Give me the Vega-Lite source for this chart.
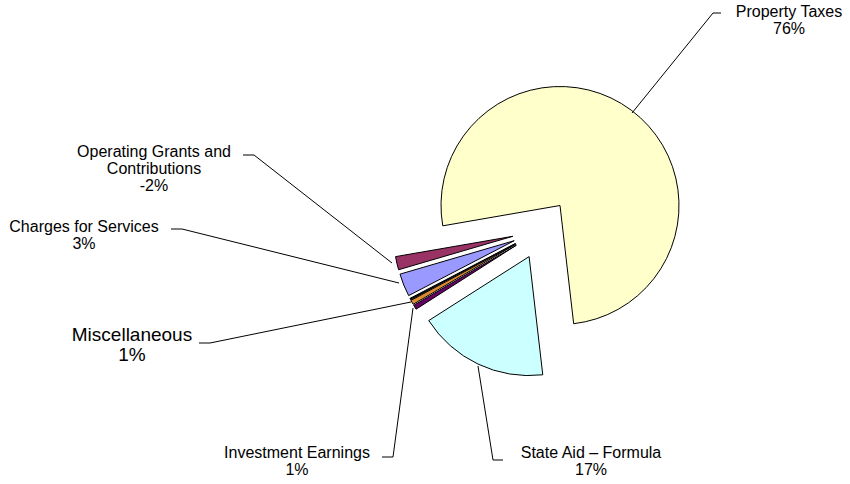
{
  "$schema": "https://vega.github.io/schema/vega-lite/v6.json",
  "width": 850,
  "height": 484,
  "autosize": {"type": "fit", "contains": "padding"},
  "padding": 0,
  "background": "white",
  "config": {"view": {"stroke": null}},
  "datasets": {
    "revenue": [
      {"source": "State Aid – Formula", "share": 17.8, "order": 1},
      {"source": "Investment Earnings", "share": 0.6, "order": 2},
      {"source": "Miscellaneous", "share": 0.6, "order": 3},
      {"source": "Other", "share": 0.2, "order": 4},
      {"source": "Charges for Services", "share": 3.1, "order": 5},
      {"source": "Operating Grants and Contributions", "share": 1.8, "order": 6},
      {"source": "Property Taxes", "share": 75.9, "order": 7}
    ],
    "labels": [
      {"source": "Property Taxes", "label": "Property Taxes\n76%", "x": 247, "y": 212.8},
      {"source": "Operating Grants and Contributions", "label": "Operating Grants and\nContributions\n-2%", "x": -388, "y": 72.8},
      {"source": "Charges for Services", "label": "Charges for Services\n3%", "x": -458, "y": -2.2},
      {"source": "Miscellaneous", "label": "Miscellaneous\n1%", "x": -410, "y": -111},
      {"source": "Investment Earnings", "label": "Investment Earnings\n1%", "x": -245, "y": -228.8},
      {"source": "State Aid – Formula", "label": "State Aid – Formula\n17%", "x": 49, "y": -228.8}
    ],
    "leaders": [
      {"source": "Property Taxes", "seq": 1, "x": 90, "y": 116.5},
      {"source": "Property Taxes", "seq": 2, "x": 171, "y": 216.5},
      {"source": "Property Taxes", "seq": 3, "x": 179, "y": 216.5},
      {"source": "Operating Grants and Contributions", "seq": 1, "x": -150, "y": -33.5},
      {"source": "Operating Grants and Contributions", "seq": 2, "x": -288, "y": 74.5},
      {"source": "Operating Grants and Contributions", "seq": 3, "x": -299, "y": 74.5},
      {"source": "Charges for Services", "seq": 1, "x": -143, "y": -53.5},
      {"source": "Charges for Services", "seq": 2, "x": -360, "y": 0.5},
      {"source": "Charges for Services", "seq": 3, "x": -371, "y": 0.5},
      {"source": "Miscellaneous", "seq": 1, "x": -131, "y": -72.5},
      {"source": "Miscellaneous", "seq": 2, "x": -332, "y": -113.5},
      {"source": "Miscellaneous", "seq": 3, "x": -343, "y": -113.5},
      {"source": "Investment Earnings", "seq": 1, "x": -129, "y": -78.5},
      {"source": "Investment Earnings", "seq": 2, "x": -149, "y": -227.5},
      {"source": "Investment Earnings", "seq": 3, "x": -160, "y": -227.5},
      {"source": "State Aid – Formula", "seq": 1, "x": -64, "y": -136.5},
      {"source": "State Aid – Formula", "seq": 2, "x": -49, "y": -230.5},
      {"source": "State Aid – Formula", "seq": 3, "x": -39, "y": -230.5}
    ]
  },
  "layer": [
    {
      "data": {"name": "revenue"},
      "transform": [
        {"stack": "share", "groupby": [], "sort": [{"field": "order", "order": "ascending"}], "as": ["s0", "s1"]}
      ],
      "encoding": {
        "x": {"datum": 0, "type": "quantitative", "scale": {"domain": [-542, 308], "nice": false, "zero": false}, "axis": null},
        "y": {"datum": 0, "type": "quantitative", "scale": {"domain": [-254.5, 229.5], "nice": false, "zero": false}, "axis": null},
        "theta": {"field": "s0", "type": "quantitative", "scale": {"domain": [0, 100], "range": [3.0264, 9.3096]}},
        "theta2": {"field": "s1"},
        "color": {
          "field": "source",
          "type": "nominal",
          "legend": null,
          "scale": {
            "domain": ["State Aid – Formula", "Investment Earnings", "Miscellaneous", "Other", "Charges for Services", "Operating Grants and Contributions", "Property Taxes"],
            "range": ["#CCFFFF", "#660066", "#E08A30", "#000000", "#9999FF", "#993366", "#FFFFCC"]
          }
        }
      },
      "layer": [
        {"transform": [{"filter": "datum.order === 1"}], "mark": {"type": "arc", "outerRadius": 119, "stroke": "black", "strokeWidth": 1, "xOffset": -12.9, "yOffset": 27.1}},
        {"transform": [{"filter": "datum.order === 2"}], "mark": {"type": "arc", "outerRadius": 119, "stroke": "black", "strokeWidth": 1, "xOffset": -25.6, "yOffset": 15.7}},
        {"transform": [{"filter": "datum.order === 3"}], "mark": {"type": "arc", "outerRadius": 119, "stroke": "black", "strokeWidth": 1, "xOffset": -26.2, "yOffset": 14.7}},
        {"transform": [{"filter": "datum.order === 4"}], "mark": {"type": "arc", "outerRadius": 119, "stroke": "black", "strokeWidth": 1, "xOffset": -26.5, "yOffset": 14.0}},
        {"transform": [{"filter": "datum.order === 5"}], "mark": {"type": "arc", "outerRadius": 119, "stroke": "black", "strokeWidth": 1, "xOffset": -27.8, "yOffset": 11.2}},
        {"transform": [{"filter": "datum.order === 6"}], "mark": {"type": "arc", "outerRadius": 119, "stroke": "black", "strokeWidth": 1, "xOffset": -29.2, "yOffset": 6.8}},
        {"transform": [{"filter": "datum.order === 7"}], "mark": {"type": "arc", "outerRadius": 119, "stroke": "black", "strokeWidth": 1, "xOffset": 18.0, "yOffset": -24.0}}
      ]
    },
    {
      "data": {"name": "leaders"},
      "mark": {"type": "line", "color": "black", "strokeWidth": 1},
      "encoding": {
        "x": {"field": "x", "type": "quantitative", "scale": {"domain": [-542, 308], "nice": false, "zero": false}, "axis": null},
        "y": {"field": "y", "type": "quantitative", "scale": {"domain": [-254.5, 229.5], "nice": false, "zero": false}, "axis": null},
        "detail": {"field": "source"},
        "order": {"field": "seq"}
      }
    },
    {
      "data": {"name": "labels"},
      "transform": [{"filter": "datum.source !== 'Miscellaneous'"}],
      "mark": {"type": "text", "align": "center", "baseline": "alphabetic", "lineBreak": "\n", "lineHeight": 17, "font": "Liberation Sans", "fontSize": 16, "color": "black"},
      "encoding": {
        "x": {"field": "x", "type": "quantitative", "scale": {"domain": [-542, 308], "nice": false, "zero": false}, "axis": null},
        "y": {"field": "y", "type": "quantitative", "scale": {"domain": [-254.5, 229.5], "nice": false, "zero": false}, "axis": null},
        "text": {"field": "label"}
      }
    },
    {
      "data": {"name": "labels"},
      "transform": [{"filter": "datum.source === 'Miscellaneous'"}],
      "mark": {"type": "text", "align": "center", "baseline": "alphabetic", "lineBreak": "\n", "lineHeight": 20, "font": "Liberation Sans", "fontSize": 19, "color": "black"},
      "encoding": {
        "x": {"field": "x", "type": "quantitative", "scale": {"domain": [-542, 308], "nice": false, "zero": false}, "axis": null},
        "y": {"field": "y", "type": "quantitative", "scale": {"domain": [-254.5, 229.5], "nice": false, "zero": false}, "axis": null},
        "text": {"field": "label"}
      }
    }
  ]
}
